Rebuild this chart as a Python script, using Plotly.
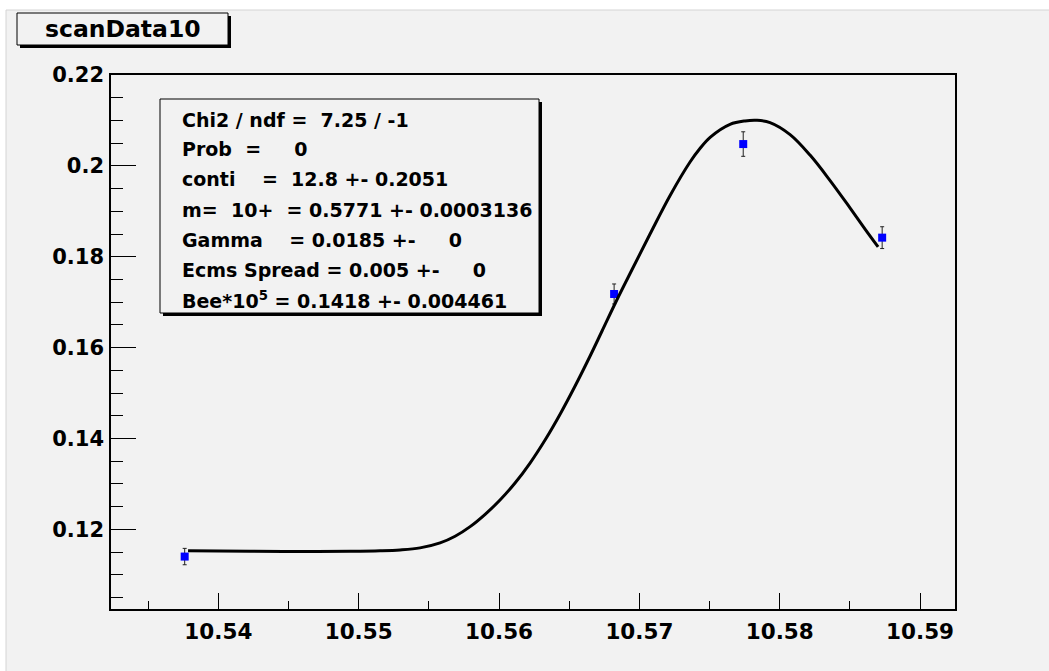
import plotly.graph_objects as go

# Scan points: centre-of-mass energy (GeV) and measured ratio with errors
energy = [10.5376, 10.5682, 10.5774, 10.5873]
ratio = [0.1140, 0.1718, 0.2048, 0.1842]
ratio_err = [0.0018, 0.0022, 0.0027, 0.0024]

# Fitted line shape sampled along the scan range
fit_energy = [10.53784, 10.54226, 10.54582, 10.54939, 10.55152, 10.55295, 10.55437,
              10.55580, 10.55687, 10.55794, 10.55901, 10.56007, 10.56114, 10.56221,
              10.56328, 10.56435, 10.56542, 10.56649, 10.56734, 10.56841, 10.56948,
              10.57076, 10.57219, 10.57361, 10.57433, 10.57504, 10.57646, 10.57753,
              10.57839, 10.57931, 10.58074, 10.58216, 10.58359, 10.58502, 10.58608,
              10.58701]
fit_ratio = [0.11529, 0.11516, 0.11511, 0.11518, 0.11529, 0.11547, 0.11591,
             0.11701, 0.11848, 0.12059, 0.12330, 0.12645, 0.13019, 0.13459,
             0.13966, 0.14534, 0.15154, 0.15815, 0.16365, 0.17058, 0.17719,
             0.18500, 0.19348, 0.20085, 0.20387, 0.20629, 0.20915, 0.20990,
             0.21003, 0.20952, 0.20688, 0.20237, 0.19676, 0.19070, 0.18610,
             0.18218]

title_text = "scanData10"
stats_lines = [
    "Chi2 / ndf =  7.25 / -1",
    "Prob  =     0",
    "conti    =  12.8 +- 0.2051",
    "m=  10+  = 0.5771 +- 0.0003136",
    "Gamma    = 0.0185 +-     0",
    "Ecms Spread = 0.005 +-     0",
    "Bee*10<sup>5</sup> = 0.1418 +- 0.004461",
]

x_range = [10.53235, 10.59249]
y_range = [0.10246, 0.2200]

W, H = 1049, 671
L, R, T, B = 111, 955, 75, 609
BG = "#f2f2f2"
FONT = "DejaVu Sans"


def px(x):
    return (x - L) / (R - L)


def py(y):
    return (B - y) / (B - T)


fig = go.Figure()

fig.add_trace(go.Scatter(
    x=energy, y=ratio, mode="markers",
    marker=dict(symbol="square", size=8, color="#0000ff", line=dict(width=0)),
    error_y=dict(type="data", array=ratio_err, visible=True,
                 color="#222222", thickness=1, width=2),
    showlegend=False, hoverinfo="skip",
))

fig.add_trace(go.Scatter(
    x=fit_energy, y=fit_ratio, mode="lines",
    line=dict(color="black", width=3, shape="spline", smoothing=1.0),
    showlegend=False, hoverinfo="skip",
))

shapes = []
# canvas area
shapes.append(dict(type="rect", xref="paper", yref="paper", layer="below",
                   x0=px(6), x1=px(W + 5), y0=py(10), y1=py(H + 5),
                   fillcolor=BG, line=dict(color="#d4d4d4", width=1)))


def box_with_shadow(x0, y0, x1, y1, off=3):
    shapes.append(dict(type="rect", xref="paper", yref="paper", layer="above",
                       x0=px(x0 + off), x1=px(x1 + off), y0=py(y0 + off), y1=py(y1 + off),
                       fillcolor="black", line=dict(width=0)))
    shapes.append(dict(type="rect", xref="paper", yref="paper", layer="above",
                       x0=px(x0), x1=px(x1), y0=py(y0), y1=py(y1),
                       fillcolor=BG, line=dict(color="black", width=1)))


box_with_shadow(17, 13, 228, 45)
box_with_shadow(160, 99, 539, 313)

annotations = [dict(
    text=title_text, xref="paper", yref="paper", x=px(123), y=py(29.5),
    xanchor="center", yanchor="middle", showarrow=False,
    font=dict(family=FONT, size=23.5, color="black", weight="bold"),
)]

line_y = [120, 149, 179, 209.5, 240, 270, 300]
for txt, yy in zip(stats_lines, line_y):
    annotations.append(dict(
        text=txt.replace(" ", "\u00a0"), xref="paper", yref="paper",
        x=px(180), y=py(yy), xanchor="left", yanchor="middle", showarrow=False,
        font=dict(family=FONT, size=19, color="black", weight="bold"),
    ))

fig.update_layout(
    width=W, height=H,
    margin=dict(l=L, r=W - R, t=T, b=H - B, pad=0),
    paper_bgcolor="white", plot_bgcolor=BG,
    shapes=shapes, annotations=annotations,
    font=dict(family=FONT, color="black"),
)

fig.update_xaxes(
    range=x_range, showgrid=False, zeroline=False,
    showline=True, mirror=True, linecolor="black", linewidth=1.5,
    ticks="inside", ticklen=16, tickwidth=1, tickcolor="black",
    tick0=10.54, dtick=0.01, tickformat=".2f",
    minor=dict(ticks="inside", ticklen=8, dtick=0.005, tick0=10.54, tickcolor="black", showgrid=False),
    tickfont=dict(family=FONT, size=21.5, color="black", weight="bold"),
    ticklabelstandoff=2,
)
fig.update_yaxes(
    range=y_range, showgrid=False, zeroline=False,
    showline=True, mirror=True, linecolor="black", linewidth=1.5,
    ticks="inside", ticklen=25, tickwidth=1, tickcolor="black",
    tick0=0.12, dtick=0.02, tickformat="~g",
    minor=dict(ticks="inside", ticklen=12, dtick=0.005, tick0=0.12, tickcolor="black", showgrid=False),
    tickfont=dict(family=FONT, size=21, color="black", weight="bold"),
    ticklabelstandoff=1,
)

fig.write_html("out.html")
